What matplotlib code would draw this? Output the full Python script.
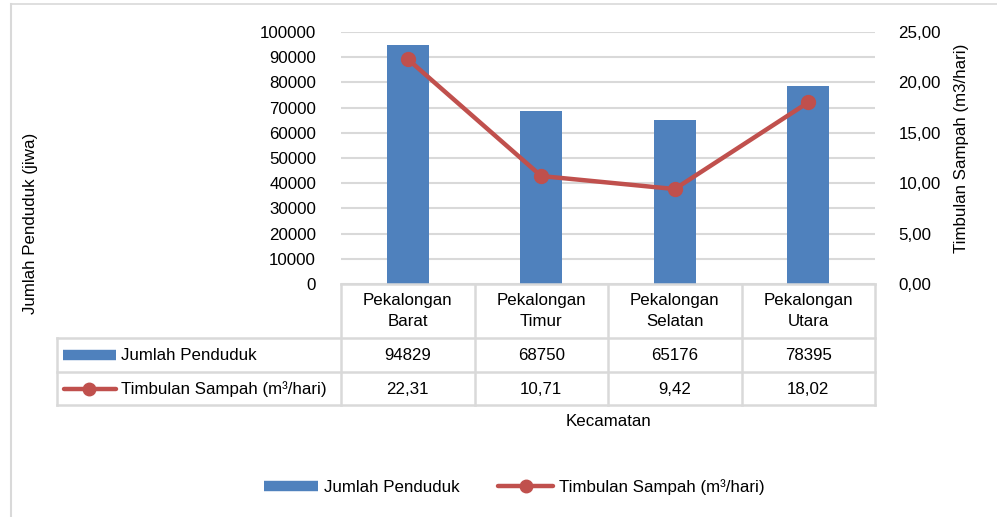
import matplotlib.pyplot as plt
from matplotlib.lines import Line2D
from matplotlib.ticker import FuncFormatter, MultipleLocator

plt.rcParams['font.family'] = ['Liberation Sans', 'DejaVu Sans']

kecamatan = ['Pekalongan\nBarat', 'Pekalongan\nTimur', 'Pekalongan\nSelatan', 'Pekalongan\nUtara']
penduduk = [94829, 68750, 65176, 78395]
sampah = [22.31, 10.71, 9.42, 18.02]
sampah_label = ['22,31', '10,71', '9,42', '18,02']

BLUE = '#4F81BD'
RED = '#C0504D'
GRID = '#D9D9D9'
FS = 12.2

W, H = 997, 517
fig = plt.figure(figsize=(W / 100, H / 100), dpi=100)


def fx(x):
    return x / W


def fy(y):
    return 1 - y / H


# plot area
left, right, top, bottom = 341, 875, 32, 284
ax = fig.add_axes([fx(left), fy(bottom), fx(right - left), fy(top) - fy(bottom)])
x = list(range(len(kecamatan)))
ax.bar(x, penduduk, width=0.315, color=BLUE, zorder=2)
ax.set_xlim(-0.5, len(kecamatan) - 0.5)
ax.set_ylim(0, 100000)
ax.yaxis.set_major_locator(MultipleLocator(10000))
ax.grid(axis='y', color=GRID, lw=1.5, zorder=0)
ax.set_axisbelow(True)
ax.set_xticks([])
ax.tick_params(axis='y', length=0, labelsize=FS, pad=18)
for s in ax.spines.values():
    s.set_visible(False)

ax2 = ax.twinx()
ax2.plot(x, sampah, color=RED, lw=3.2, marker='o', ms=10, zorder=3)
ax2.set_ylim(0, 25)
ax2.yaxis.set_major_locator(MultipleLocator(5))
ax2.yaxis.set_major_formatter(FuncFormatter(lambda v, p: f'{v:.2f}'.replace('.', ',')))
ax2.tick_params(axis='y', length=0, labelsize=FS, pad=17)
for s in ax2.spines.values():
    s.set_visible(False)

# data table under the plot
tl = dict(color=GRID, lw=1.8, transform=fig.transFigure, clip_on=False)
col_w = (right - left) / len(kecamatan)
rows = [284, 338, 372, 405]
tbl_left = 57
fig.add_artist(Line2D([fx(left), fx(right)], [fy(rows[0])] * 2, **tl))
for r in rows[1:]:
    fig.add_artist(Line2D([fx(tbl_left), fx(right)], [fy(r)] * 2, **tl))
fig.add_artist(Line2D([fx(tbl_left)] * 2, [fy(rows[1]), fy(rows[3])], **tl))
for i in range(len(kecamatan) + 1):
    xc = left + i * col_w
    fig.add_artist(Line2D([fx(xc)] * 2, [fy(rows[0]), fy(rows[3])], **tl))

for i, name in enumerate(kecamatan):
    xc = fx(left + (i + 0.5) * col_w)
    fig.text(xc, fy(311), name, ha='center', va='center', fontsize=FS, linespacing=1.45)
    fig.text(xc, fy(355), str(penduduk[i]), ha='center', va='center', fontsize=FS)
    fig.text(xc, fy(389), sampah_label[i], ha='center', va='center', fontsize=FS)

# legend keys inside the table
fig.add_artist(Line2D([fx(63), fx(116)], [fy(355)] * 2, color=BLUE, lw=7.5,
                      solid_capstyle='butt', transform=fig.transFigure))
fig.add_artist(Line2D([fx(64), fx(116)], [fy(389)] * 2, color=RED, lw=3.2,
                      solid_capstyle='round', transform=fig.transFigure))
fig.add_artist(Line2D([fx(89)], [fy(389)], color=RED, marker='o', ms=9,
                      transform=fig.transFigure))
fig.text(fx(121), fy(355), 'Jumlah Penduduk', ha='left', va='center', fontsize=FS)
fig.text(fx(121), fy(389), 'Timbulan Sampah (m³/hari)', ha='left', va='center', fontsize=FS)

fig.text(fx(608), fy(422), 'Kecamatan', ha='center', va='center', fontsize=FS)
fig.text(fx(30), fy(223), 'Jumlah Penduduk (jiwa)', rotation=90,
         ha='center', va='center', fontsize=FS)
fig.text(fx(961), fy(148), 'Timbulan Sampah (m3/hari)', rotation=90,
         ha='center', va='center', fontsize=FS)

handles = [
    Line2D([], [], color=BLUE, lw=7.5, solid_capstyle='butt'),
    Line2D([], [], color=RED, lw=3.2, marker='o', ms=9, solid_capstyle='round'),
]
fig.legend(handles, ['Jumlah Penduduk', 'Timbulan Sampah (m³/hari)'],
           loc='center', bbox_to_anchor=(fx(514), fy(487)), ncol=2, frameon=False,
           fontsize=FS, handlelength=3.2, handletextpad=0.35, columnspacing=2.3)

# outer frame (top and left edges)
fig.add_artist(Line2D([fx(10.5), 1], [fy(3.5)] * 2, color=GRID, lw=1.2,
                      transform=fig.transFigure))
fig.add_artist(Line2D([fx(10.5)] * 2, [fy(3.5), 0], color=GRID, lw=1.5,
                      transform=fig.transFigure))

fig.savefig('out.png', dpi=100)
